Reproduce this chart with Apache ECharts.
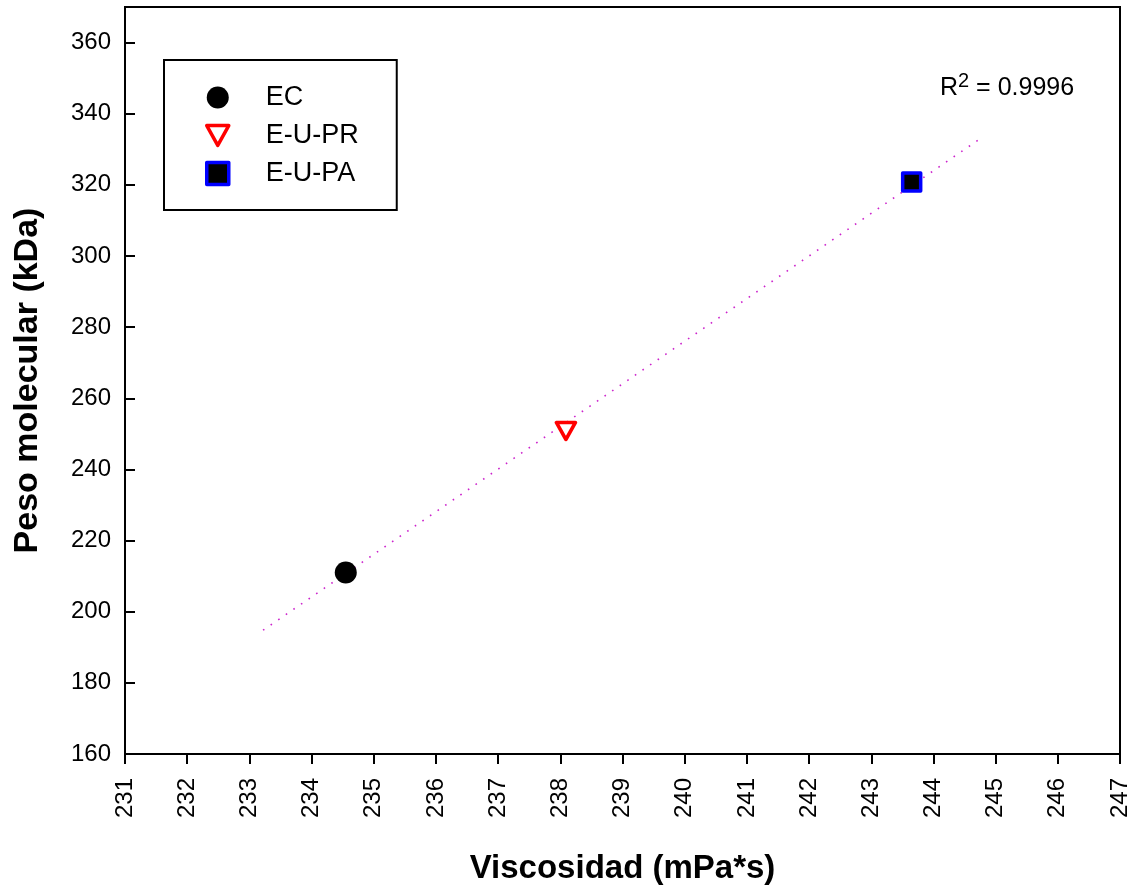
<!doctype html>
<html>
<head>
<meta charset="utf-8">
<title>Peso molecular vs Viscosidad</title>
<script src="https://cdn.jsdelivr.net/npm/echarts@6/dist/echarts.min.js"></script>
<style type="text/css">
	html, body { margin: 0; padding: 0; background: #fff; }
	#chart { width: 1136px; height: 890px; }
</style>
</head>
<body>
<div id="chart"></div>
<script type="text/javascript">
	// puntos medidos
	var seriesNames = ['EC', 'E-U-PR', 'E-U-PA'];
	var viscosidad = [234.55, 238.09, 243.65];
	var pesoMolecular = [211.0, 250.8, 320.8];
	// recta de ajuste (extremos)
	var fitX = [233.22, 244.72];
	var fitY = [194.8, 332.6];
	var r2Text = '0.9996';

	var font = 'Liberation Sans, Arial, sans-serif';
	var triPath = 'path://M0,0L20,0L10,18Z';
	var myChart = echarts.init(document.getElementById('chart'));

	var option = {
		animation: false,
		backgroundColor: '#fff',
		grid: {
			left: 125,
			top: 7,
			right: 16,
			bottom: 136,
			show: true,
			borderColor: '#000',
			borderWidth: 2
		},
		legend: {
			orient: 'vertical',
			left: 164,
			top: 60,
			padding: [24, 38, 23, 41],
			itemGap: 11,
			itemWidth: 22,
			itemHeight: 22,
			borderColor: '#000',
			borderWidth: 2,
			backgroundColor: '#fff',
			textStyle: {
				fontFamily: font,
				fontSize: 27,
				color: '#000',
				lineHeight: 26,
				padding: [0, 0, 0, 32]
			},
			data: [
				{ name: seriesNames[0], icon: 'circle', itemStyle: { color: '#000', opacity: 1 } },
				{ name: seriesNames[1], icon: triPath, itemStyle: { color: '#fff', borderColor: '#ff0000', borderWidth: 3.5, opacity: 1 } },
				{ name: seriesNames[2], icon: 'rect', itemStyle: { color: '#000', borderColor: '#0000ff', borderWidth: 3.5, opacity: 1 } }
			]
		},
		xAxis: {
			type: 'value',
			min: 231,
			max: 247,
			interval: 1,
			name: 'Viscosidad (mPa*s)',
			nameLocation: 'middle',
			nameGap: 98,
			nameTextStyle: { fontFamily: font, fontSize: 33, fontWeight: 'bold', color: '#000' },
			axisLine: { lineStyle: { color: '#000', width: 2 } },
			axisTick: { inside: false, length: 10, lineStyle: { color: '#000', width: 2 } },
			axisLabel: { rotate: 90, margin: 24, fontFamily: font, fontSize: 24, color: '#000' },
			splitLine: { show: false }
		},
		yAxis: {
			type: 'value',
			min: 160,
			max: 370,
			interval: 20,
			name: 'Peso molecular (kDa)',
			nameLocation: 'middle',
			nameGap: 80,
			nameTextStyle: { fontFamily: font, fontSize: 34, fontWeight: 'bold', color: '#000' },
			axisLine: { lineStyle: { color: '#000', width: 2 } },
			axisTick: { inside: true, length: 10, lineStyle: { color: '#000', width: 2 } },
			axisLabel: { margin: 14, fontFamily: font, fontSize: 24, color: '#000', showMaxLabel: false },
			splitLine: { show: false }
		},
		graphic: [{
			type: 'text',
			left: 940,
			top: 71,
			style: {
				text: '{b|R}{s|2}{b| = ' + r2Text + '}',
				rich: {
					b: { fontFamily: font, fontSize: 25, color: '#000', verticalAlign: 'bottom', lineHeight: 30 },
					s: { fontFamily: font, fontSize: 20, color: '#000', verticalAlign: 'top', lineHeight: 30, padding: [0, 0, 16, 0] }
				}
			}
		}],
		series: [
			{
				name: 'ajuste',
				type: 'line',
				data: [[fitX[0], fitY[0]], [fitX[1], fitY[1]]],
				symbol: 'none',
				lineStyle: { color: '#cc22cc', width: 1.6, type: [1.6, 7.6] },
				z: 1
			},
			{
				name: seriesNames[0],
				type: 'scatter',
				data: [[viscosidad[0], pesoMolecular[0]]],
				symbol: 'circle',
				symbolSize: 22,
				itemStyle: { color: '#000', opacity: 1 },
				z: 3
			},
			{
				name: seriesNames[1],
				type: 'scatter',
				data: [[viscosidad[1], pesoMolecular[1]]],
				symbol: triPath,
				symbolSize: [19, 17],
				itemStyle: { color: '#fff', borderColor: '#ff0000', borderWidth: 3.5, borderJoin: 'round', opacity: 1 },
				z: 3
			},
			{
				name: seriesNames[2],
				type: 'scatter',
				data: [[viscosidad[2], pesoMolecular[2]]],
				symbol: 'rect',
				symbolSize: 18,
				itemStyle: { color: '#000', borderColor: '#0000ff', borderWidth: 3.5, borderJoin: 'round', opacity: 1 },
				z: 3
			}
		]
	};
	myChart.setOption(option);
</script>
</body>
</html>
